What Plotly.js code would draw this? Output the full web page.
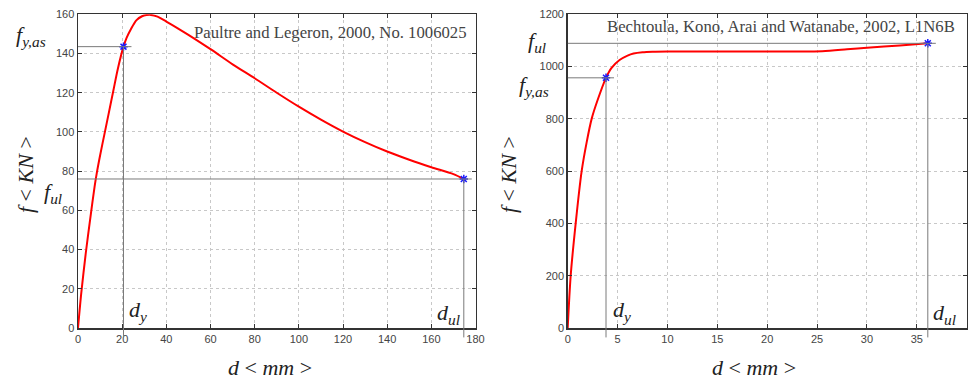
<!DOCTYPE html>
<html>
<head>
<meta charset="utf-8">
<script src="https://cdn.plot.ly/plotly-3.0.1.min.js"></script>
<style>
html,body{margin:0;padding:0;background:#fff;}
#chart{width:972px;height:381px;}
</style>
</head>
<body>
<div id="chart"></div>
<script>
// ---- Left: Paultre and Legeron, 2000, No. 1006025 ----
var leftD = [0, 1.5, 3.5, 5.8, 7.5, 8.5, 10, 12, 14, 16, 18, 20.6, 22, 24, 26.5, 29, 31, 33, 36, 40, 45, 50, 60, 70, 80, 90, 100, 110, 120, 130, 140, 150, 160, 170, 174.7];
var leftF = [0, 18, 38, 58, 72, 79, 88, 99, 110, 121, 132, 143.5, 148, 152.5, 157, 159, 159.6, 159.7, 158.8, 156.3, 153, 149.5, 142.2, 134.5, 127.4, 120, 112.9, 106.3, 100.2, 94.8, 90, 85.8, 82, 78.5, 76];
var leftMarkD = [20.6, 174.7];
var leftMarkF = [143.5, 76];
var leftTitle = "Paultre and Legeron, 2000, No. 1006025";

// ---- Right: Bechtoula, Kono, Arai and Watanabe, 2002, L1N6B ----
var rightD = [0, 0.3, 0.8, 1.4, 1.9, 2.4, 3.0, 3.84, 4.4, 5.2, 6.0, 6.6, 7.5, 8.5, 10, 15, 20, 25.5, 28, 30, 33.3, 36.1];
var rightF = [0, 200, 400, 600, 710, 800, 872, 957, 995, 1025, 1042, 1050, 1055, 1057, 1058, 1058, 1058, 1059, 1066, 1072, 1081, 1089];
var rightMarkD = [3.84, 36.1];
var rightMarkF = [957, 1089];
var rightTitle = "Bechtoula, Kono, Arai and Watanabe, 2002, L1N6B";

var W = 972, H = 381;
function px(x){ return x / W; }
function py(y){ return 1 - y / H; }

var leftDom = [px(78), px(475.5)];
var rightDom = [px(567.7), px(966.7)];
var yDom = [py(328), py(14.3)];

var lineStyle = {color: 'red', width: 2, shape: 'spline', smoothing: 0.8};
var markStyle = {symbol: 'asterisk-open', size: 7, color: '#1a1aff', line: {color: '#1a1aff', width: 1.5}};

var traces = [
  {x: leftD, y: leftF, xaxis: 'x', yaxis: 'y', mode: 'lines', line: lineStyle, hoverinfo: 'skip'},
  {x: leftMarkD, y: leftMarkF, xaxis: 'x', yaxis: 'y', mode: 'markers', marker: markStyle, cliponaxis: false},
  {x: rightD, y: rightF, xaxis: 'x2', yaxis: 'y2', mode: 'lines', line: lineStyle, hoverinfo: 'skip'},
  {x: rightMarkD, y: rightMarkF, xaxis: 'x2', yaxis: 'y2', mode: 'markers', marker: markStyle, cliponaxis: false}
];

var refLine = {color: '#7a7a7a', width: 1};
function refShapes(xr, yr, md, mf, xmax) {
  var s = [];
  var ext = xmax * 8 / 398;
  for (var i = 0; i < md.length; i++) {
    s.push({type: 'line', xref: xr, yref: yr, x0: 0, x1: md[i] + ext, y0: mf[i], y1: mf[i], line: refLine, layer: 'above'});
    s.push({type: 'line', xref: xr, yref: yr, x0: md[i], x1: md[i], y0: 0, y1: mf[i], line: refLine, layer: 'above'});
    s.push({type: 'line', xref: xr, yref: yr + ' domain', x0: md[i], x1: md[i], y0: -0.03, y1: 0, line: refLine, layer: 'above'});
  }
  return s;
}
var shapes = refShapes('x', 'y', leftMarkD, leftMarkF, 180).concat(refShapes('x2', 'y2', rightMarkD, rightMarkF, 40));

var tickFont = {family: 'Liberation Sans, Arial, sans-serif', size: 11, color: '#444'};
function axisBase(extra) {
  var a = {
    showline: true, linecolor: '#333', linewidth: 1.5, mirror: 'ticks',
    ticks: 'inside', ticklen: 4, tickcolor: '#333', tickwidth: 1,
    showgrid: true, gridcolor: '#c8c8c8', griddash: 'dot', gridwidth: 1,
    zeroline: false, tickfont: tickFont, automargin: false, fixedrange: true
  };
  for (var k in extra) a[k] = extra[k];
  return a;
}

var serif = 'Liberation Serif, Times New Roman, serif';
function lab(x, y, text, size, extra) {
  var a = {xref: 'paper', yref: 'paper', x: px(x), y: py(y), text: text, showarrow: false,
           xanchor: 'center', yanchor: 'middle', font: {family: serif, size: size, color: '#222'}};
  for (var k in extra) a[k] = extra[k];
  return a;
}

var annotations = [
  lab(469, 33, leftTitle, 16.7, {xanchor: 'right', font: {family: serif, size: 16.7, color: '#444'}}),
  lab(957, 27, rightTitle, 16.7, {xanchor: 'right', font: {family: serif, size: 16.7, color: '#444'}}),
  // left math labels
  lab(31, 36, '<i>f</i><sub><i>y,as</i></sub>', 22),
  lab(53, 193, '<i>f</i><sub><i>ul</i></sub>', 22),
  lab(138, 311, '<i>d</i><sub><i>y</i></sub>', 22),
  lab(448, 314, '<i>d</i><sub><i>ul</i></sub>', 22),
  // right math labels
  lab(537, 42, '<i>f</i><sub><i>ul</i></sub>', 22),
  lab(534, 86, '<i>f</i><sub><i>y,as</i></sub>', 22),
  lab(622, 311, '<i>d</i><sub><i>y</i></sub>', 22),
  lab(944, 314, '<i>d</i><sub><i>ul</i></sub>', 22),
  // axis titles
  lab(26, 175, '<i>f</i> &lt; <i>KN</i> &gt;', 22, {textangle: -90}),
  lab(509, 175, '<i>f</i> &lt; <i>KN</i> &gt;', 22, {textangle: -90}),
  lab(270, 367, '<i>d</i> &lt; <i>mm</i> &gt;', 22),
  lab(754, 367, '<i>d</i> &lt; <i>mm</i> &gt;', 22)
];

var layout = {
  width: W, height: H,
  margin: {l: 0, r: 0, t: 0, b: 0, pad: 0},
  paper_bgcolor: '#fff', plot_bgcolor: '#fff',
  showlegend: false,
  xaxis: axisBase({domain: leftDom, range: [0, 180], dtick: 20, tick0: 0, anchor: 'y'}),
  yaxis: axisBase({domain: yDom, range: [0, 160], dtick: 20, tick0: 0, anchor: 'x'}),
  xaxis2: axisBase({domain: rightDom, range: [0, 40], dtick: 5, tick0: 0, anchor: 'y2'}),
  yaxis2: axisBase({domain: yDom, range: [0, 1200], dtick: 200, tick0: 0, anchor: 'x2'}),
  shapes: shapes,
  annotations: annotations
};

Plotly.newPlot('chart', traces, layout, {staticPlot: true, displayModeBar: false});
</script>
</body>
</html>
